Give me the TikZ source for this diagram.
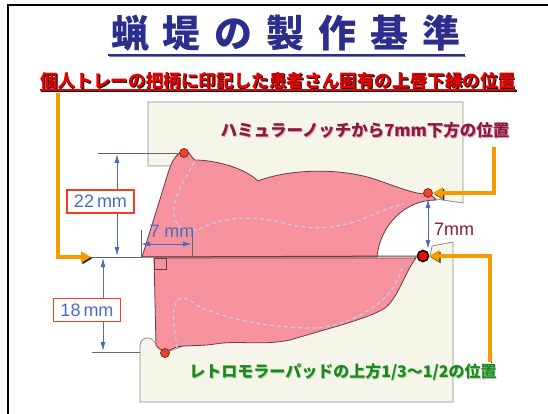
\documentclass[tikz,border=0pt]{standalone}
\usepackage{fontspec}
\setmainfont{Noto Sans CJK JP}
\newfontfamily\latinsf{Liberation Sans}
\usetikzlibrary{arrows.meta}

\definecolor{titlenavy}{HTML}{2B2E8C}
\definecolor{subred}{HTML}{E60000}
\definecolor{trayfill}{HTML}{F5F5EA}
\definecolor{waxpink}{HTML}{F5929D}
\definecolor{rimline}{HTML}{6E3B3B}
\definecolor{dashblue}{HTML}{CACAEC}
\definecolor{dimblue}{HTML}{4A6CC0}
\definecolor{boxred}{HTML}{F0401E}
\definecolor{dotfill}{HTML}{E8442E}
\definecolor{dotedge}{HTML}{8A2A1A}
\definecolor{guideorange}{HTML}{F59A00}
\definecolor{notchred}{HTML}{8B1A40}
\definecolor{notchshade}{HTML}{E8A0B0}
\definecolor{padgreen}{HTML}{1E881E}
\definecolor{padshade}{HTML}{A8D8A8}

% text with a small offset shade behind it
\newcommand{\shadetext}[3]{\makebox[0pt][l]{\hspace{0.9pt}\raisebox{-0.9pt}{\color{#2}#3}}{\color{#1}#3}}

\begin{document}
\begin{tikzpicture}[
    x=1pt, y=-1pt,
    thick,
    font=\normalsize
]
\tikzset{
    traybox/.style = {draw=black!45, fill=trayfill, line width=0.8pt},
    rim/.style = {draw=rimline, fill=waxpink, line width=0.8pt},
    midline/.style = {draw=dashblue, line width=1.2pt, dash pattern=on 4pt off 3pt},
    dimline/.style = {draw=dimblue, line width=0.9pt, {Latex[length=9pt,width=5pt]}-{Latex[length=9pt,width=5pt]}},
    extline/.style = {draw=black!60, line width=0.8pt},
    dotr/.style = {circle, draw=dotedge, fill=dotfill, inner sep=0pt, minimum size=9pt, line width=0.8pt},
    dotk/.style = {circle, draw=black, fill=red, inner sep=0pt, minimum size=11pt, line width=1.6pt},
    guide/.style = {draw=guideorange, line width=3.2pt, -{Triangle[length=10pt,width=11pt]},
        preaction={draw=black!85, transform canvas={xshift=1.4pt, yshift=-1.4pt}}},
    mmbox/.style = {draw=boxred, line width=1.3pt, fill=white, text=dimblue, inner sep=0pt,
        minimum width=67pt, minimum height=23pt, font=\latinsf\fontsize{18}{18}\selectfont},
    dimtext/.style = {text=dimblue, inner sep=0pt, font=\latinsf\fontsize{18}{18}\selectfont}
}
\useasboundingbox (0,0) rectangle (548,414);
\fill[white] (0,0) rectangle (548,414);
\draw[line width=1.5pt] (8,414) -- (8,5) -- (548,5);

% title
\node[inner sep=0pt, text=titlenavy, font=\bfseries\fontsize{38}{38}\selectfont] (title) at (286,33)
    {蝋\hspace{14pt}堤\hspace{14pt}の\hspace{14pt}製\hspace{14pt}作\hspace{14pt}基\hspace{14pt}準};
\draw[black!50, line width=1.6pt] (109,56.5) -- (466,56.5);
\draw[titlenavy, line width=1.6pt] (108,55) -- (465,55);

% lip line note
\node[inner sep=0pt, font=\bfseries\fontsize{17.6}{18}\selectfont] (lipnote) at (278,81)
    {\shadetext{subred}{black}{個人トレーの把柄に印記した患者さん固有の上唇下縁の位置}};
\draw[black, line width=1.2pt] (41,91) -- (517,91);
\draw[subred, line width=1.2pt] (40,90) -- (516,90);

% trays
\draw[traybox] (148,102) -- (463,102) -- (463,203) -- (436,199) -- (428,197) -- (380,200)
    -- (250,190) -- (171,166) -- (148,166) -- cycle;
\draw[traybox] (140,402) -- (140,346) .. controls (140,340) and (145,337) .. (149,338)
    .. controls (155,339) and (158,350) .. (165,353) -- (250,320) -- (380,280) -- (416,257)
    -- (430,257) -- (432,246) -- (453,242) -- (453,402) -- cycle;

% upper rim
\draw[rim] (142,257) -- (169,170) .. controls (173,158) and (179,151) .. (185,151)
    .. controls (190,151) and (191,158) .. (195,160)
    .. controls (215,160) and (245,168) .. (258,181)
    .. controls (285,170) and (340,166) .. (380,181)
    .. controls (400,188) and (415,194) .. (426,194)
    .. controls (431,194) and (434,197) .. (436,200)
    .. controls (405,200) and (380,225) .. (377,257) -- cycle;
% lower rim
\draw[rim] (154,258) -- (416,258) .. controls (405,272) and (398,298) .. (385,308)
    .. controls (370,318) and (330,328) .. (290,340)
    .. controls (260,346) and (240,340) .. (215,344)
    .. controls (195,347) and (180,344) .. (172,349)
    .. controls (168,352) and (160,352) .. (156,345) -- cycle;
\draw[rimline, line width=0.8pt] (154,258) rectangle (166,269);

% ridge lines
\draw[midline] (194,162) .. controls (186,180) and (172,195) .. (174,215)
    .. controls (176,230) and (190,235) .. (205,226)
    .. controls (225,218) and (250,215) .. (280,222)
    .. controls (310,230) and (330,230) .. (360,220)
    .. controls (380,212) and (395,205) .. (404,204);
\draw[midline] (177,348) .. controls (176,335) and (170,315) .. (176,302)
    .. controls (182,294) and (190,300) .. (200,307)
    .. controls (230,320) and (270,328) .. (315,328)
    .. controls (350,326) and (380,305) .. (390,292)
    .. controls (396,284) and (400,275) .. (402,268);

% reference points
\node[dotr] (incisal) at (184,153) {};
\node[dotr] (hamular) at (428,193) {};
\node[dotr] (retromolar) at (165,353) {};
\node[dotk] (planeR) at (423,256) {};

\coordinate (planeL) at (91,257);
\coordinate (rimL) at (142,257);
\coordinate (ext22) at (98,153);
\coordinate (ext18a) at (92,352);
\coordinate (ext18b) at (140,352);

% occlusal plane and extension lines
\draw[extline] (planeL) -- (rimL);
\draw[rimline, line width=1pt] (rimL) -- (planeR);
\draw[extline] (ext22) -- (incisal);
\draw[extline] (ext18a) -- (ext18b);
\draw[extline] (141,230) -- (141,257);
\draw[extline] (192,230) -- (192,257);

% dimensions
\coordinate (up22) at (117,154);
\coordinate (lo22) at (117,256);
\coordinate (up18) at (103,258);
\coordinate (lo18) at (103,351);
\coordinate (l7) at (141,244);
\coordinate (r7) at (192,244);
\coordinate (up7) at (428,199);
\coordinate (lo7) at (428,249);
\draw[dimline] (up22) -- (lo22);
\draw[dimline] (up18) -- (lo18);
\draw[dimline] (l7) -- (r7);
\draw[dimline] (up7) -- (lo7);

\node[mmbox] (h22) at (100.5,201.5) {22\,mm};
\node[mmbox] (h18) at (87,310) {18\,mm};
\node[dimtext] (w7) at (172,231) {7 mm};
\node[inner sep=0pt, text=notchred, font=\latinsf\fontsize{18}{18}\selectfont] (gap7) at (454,229) {7mm};

% notes
\node[inner sep=0pt, font=\bfseries\fontsize{16.5}{18}\selectfont] (notchnote) at (365,131)
    {\shadetext{notchred}{notchshade}{ハミュラーノッチから7mm下方の位置}};
\node[inner sep=0pt, font=\bfseries\fontsize{16}{18}\selectfont] (padnote) at (343,373)
    {\shadetext{padgreen}{padshade}{レトロモラーパッドの上方1/3～1/2の位置}};

% pointers
\coordinate (lipfoot) at (58,93);
\coordinate (notchfoot) at (494,147);
\coordinate (padfoot) at (490,362);
\draw[guide] (lipfoot) |- (planeL);
\draw[guide] (notchfoot) |- (hamular.east);
\draw[guide] (padfoot) |- (planeR.east);
\end{tikzpicture}
\end{document}
